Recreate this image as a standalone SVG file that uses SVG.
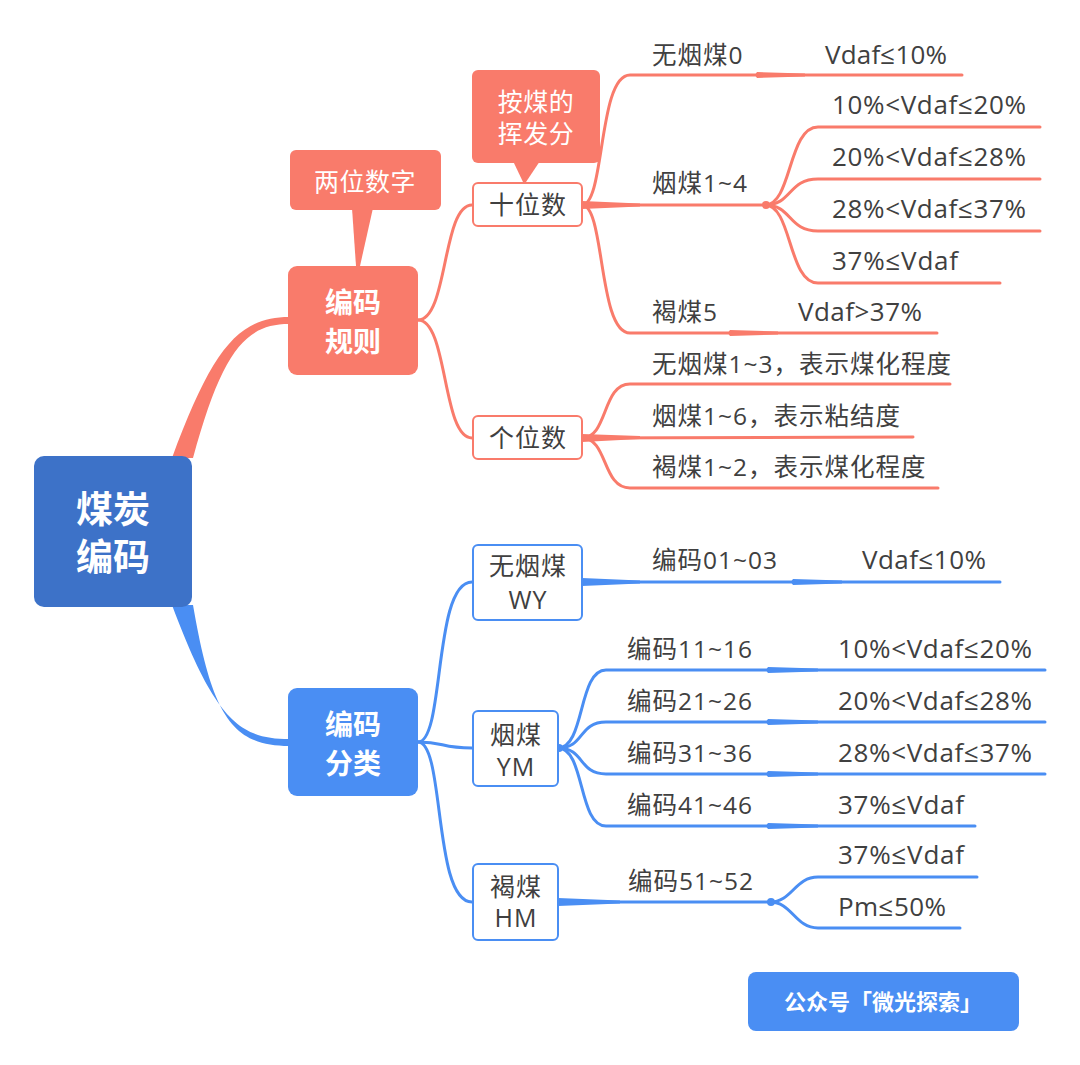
<svg xmlns="http://www.w3.org/2000/svg" width="1080" height="1065" viewBox="0 0 1080 1065">
<style>
text{font-family:"Open Sans","Noto Sans CJK SC",sans-serif;}
.lbl{font-size:24.5px;fill:#404040;letter-spacing:1px;}
.num{font-size:26px;fill:#404040;}
.sub{font-size:25px;fill:#404040;text-anchor:middle;letter-spacing:1px;}
.wt{fill:#fff;font-weight:bold;text-anchor:middle;}
.ct{fill:#fff;font-size:25px;text-anchor:middle;letter-spacing:0.5px;}
.rl{fill:none;stroke:#F97B6B;stroke-width:3;stroke-linecap:round;}
.bl{fill:none;stroke:#4A8EF3;stroke-width:3;stroke-linecap:round;}
.rf{fill:#F97B6B;}
.bf{fill:#4A8EF3;}
</style>
<rect width="1080" height="1065" fill="#fff"/>
<g id="connectors">
  <path class="rf" d="M172 458 C212 350 238 317 289 317 L289 324 C245 324 222 352 193 458 Z"/>
  <path class="bf" d="M172 605 C215 720 240 739 289 739 L289 746 C232 746 212 715 193 605 Z"/>
  <path class="rl" d="M418 320 C448 320 442 205 472 205"/>
  <path class="rl" d="M418 320 C448 320 442 438 472 438"/>
  <path class="rl" d="M582 205 C605 205 598 75 630 75 L962 75"/>
  <path class="rl" d="M582 205 L765 205"/>
  <path class="rl" d="M582 205 C605 205 598 333 630 333 L937 333"/>
  <path class="rl" d="M765 205 C792 205 788 127 818 127 L1040 127"/>
  <path class="rl" d="M765 205 C792 205 788 179 818 179 L1040 179"/>
  <path class="rl" d="M765 205 C792 205 788 231 818 231 L1040 231"/>
  <path class="rl" d="M765 205 C792 205 788 283 818 283 L1000 283"/>
  <path class="rf" d="M582 201 L640 203.5 L640 206.5 L582 209 Z"/>
  <path class="rf" d="M757 72 Q754 75 757 78 L805 76.5 L805 73.5 Z"/>
  <path class="rf" d="M730 330 Q727 333 730 336 L778 334.5 L778 331.5 Z"/>
  <circle class="rf" cx="766" cy="205" r="4"/>
  <path class="rl" d="M582 438 C608 438 602 384 630 384 L950 384"/>
  <path class="rl" d="M582 438 L913 437"/>
  <path class="rl" d="M582 438 C608 438 602 488 630 488 L938 488"/>
  <path class="rf" d="M582 434 L640 436 L640 439 L582 442 Z"/>
  <path class="bl" d="M418 742 C445 742 433 582 472 582"/>
  <path class="bl" d="M418 742 C445 742 440 748 472 748"/>
  <path class="bl" d="M418 742 C445 742 433 902 472 902"/>
  <path class="bl" d="M582 582 L1000 582"/>
  <path class="bf" d="M582 578 L640 580.5 L640 583.5 L582 586 Z"/>
  <path class="bf" d="M793 579 Q790 582 793 585 L842 583.5 L842 580.5 Z"/>
  <path class="bl" d="M558 748 C585 748 578 670 606 670 L1045 670"/>
  <path class="bl" d="M558 748 C585 748 578 722 606 722 L1045 722"/>
  <path class="bl" d="M558 748 C585 748 578 774 606 774 L1045 774"/>
  <path class="bl" d="M558 748 C585 748 578 826 606 826 L975 826"/>
  <circle class="bf" cx="559" cy="748" r="4"/>
  <path class="bf" d="M768 667 Q765 670 768 673 L818 671.5 L818 668.5 Z"/>
  <path class="bf" d="M768 719 Q765 722 768 725 L818 723.5 L818 720.5 Z"/>
  <path class="bf" d="M768 771 Q765 774 768 777 L818 775.5 L818 772.5 Z"/>
  <path class="bf" d="M768 823 Q765 826 768 829 L818 827.5 L818 824.5 Z"/>
  <path class="bl" d="M558 902 L770 902"/>
  <path class="bf" d="M558 898 L620 900.5 L620 903.5 L558 906 Z"/>
  <path class="bl" d="M770 902 C792 902 795 877 818 877 L977 877"/>
  <path class="bl" d="M770 902 C792 902 795 928 818 928 L960 928"/>
  <circle class="bf" cx="771" cy="902" r="4"/>
</g>
<g id="root">
  <rect x="34" y="456" width="158" height="151" rx="10" fill="#3D72C8"/>
  <text class="wt" x="113" y="523" font-size="37">煤炭</text>
  <text class="wt" x="113" y="571" font-size="37">编码</text>
</g>
<g id="rule">
  <rect x="288" y="266" width="130" height="109" rx="9" class="rf"/>
  <text class="wt" x="353" y="313" font-size="28">编码</text>
  <text class="wt" x="353" y="352" font-size="28">规则</text>
</g>
<g id="callout-two">
  <rect x="290" y="150" width="151" height="60" rx="6" class="rf"/>
  <path class="rf" d="M352 208 L373 208 L360 266 L356 266 Z"/>
  <text class="ct" x="365" y="191">两位数字</text>
</g>
<g id="callout-vol">
  <rect x="472" y="70" width="128" height="93" rx="6" class="rf"/>
  <path class="rf" d="M513 161 L540 161 L526 182 L523 182 Z"/>
  <text class="ct" x="536" y="111">按煤的</text>
  <text class="ct" x="536" y="143">挥发分</text>
</g>
<g id="tens">
  <rect x="473" y="183" width="109" height="43" rx="5" fill="#fff" stroke="#F97B6B" stroke-width="2"/>
  <text class="sub" x="528" y="214">十位数</text>
</g>
<g id="ones">
  <rect x="473" y="416" width="109" height="43" rx="5" fill="#fff" stroke="#F97B6B" stroke-width="2"/>
  <text class="sub" x="528" y="447">个位数</text>
</g>
<g id="tens-labels">
  <text class="lbl" x="652" y="64">无烟煤0</text>
  <text class="num" x="825" y="64" textLength="122">Vdaf≤10%</text>
  <text class="lbl" x="652" y="192">烟煤1~4</text>
  <text class="num" x="832" y="114" textLength="194">10%&lt;Vdaf≤20%</text>
  <text class="num" x="832" y="166" textLength="194">20%&lt;Vdaf≤28%</text>
  <text class="num" x="832" y="218" textLength="194">28%&lt;Vdaf≤37%</text>
  <text class="num" x="832" y="270" textLength="126">37%≤Vdaf</text>
  <text class="lbl" x="652" y="321">褐煤5</text>
  <text class="num" x="798" y="321" textLength="124">Vdaf&gt;37%</text>
</g>
<g id="ones-labels">
  <text class="lbl" x="652" y="373">无烟煤1~3，表示煤化程度</text>
  <text class="lbl" x="652" y="425">烟煤1~6，表示粘结度</text>
  <text class="lbl" x="652" y="476">褐煤1~2，表示煤化程度</text>
</g>
<g id="classify">
  <rect x="288" y="688" width="130" height="108" rx="9" class="bf"/>
  <text class="wt" x="353" y="735" font-size="28">编码</text>
  <text class="wt" x="353" y="774" font-size="28">分类</text>
</g>
<g id="wy">
  <rect x="473" y="545" width="109" height="75" rx="5" fill="#fff" stroke="#4A8EF3" stroke-width="2"/>
  <text class="sub" x="528" y="575">无烟煤</text>
  <text class="sub" x="528" y="609">WY</text>
</g>
<g id="ym">
  <rect x="473" y="711" width="85" height="75" rx="5" fill="#fff" stroke="#4A8EF3" stroke-width="2"/>
  <text class="sub" x="516" y="744">烟煤</text>
  <text class="sub" x="516" y="776">YM</text>
</g>
<g id="hm">
  <rect x="473" y="864" width="85" height="76" rx="5" fill="#fff" stroke="#4A8EF3" stroke-width="2"/>
  <text class="sub" x="516" y="896">褐煤</text>
  <text class="sub" x="516" y="927">HM</text>
</g>
<g id="classify-labels">
  <text class="lbl" x="652" y="569" textLength="126">编码01~03</text>
  <text class="num" x="862" y="569" textLength="124">Vdaf≤10%</text>
  <text class="lbl" x="627" y="658" textLength="126">编码11~16</text>
  <text class="num" x="838" y="658" textLength="194">10%&lt;Vdaf≤20%</text>
  <text class="lbl" x="627" y="710" textLength="126">编码21~26</text>
  <text class="num" x="838" y="710" textLength="194">20%&lt;Vdaf≤28%</text>
  <text class="lbl" x="627" y="762" textLength="126">编码31~36</text>
  <text class="num" x="838" y="762" textLength="194">28%&lt;Vdaf≤37%</text>
  <text class="lbl" x="627" y="814" textLength="126">编码41~46</text>
  <text class="num" x="838" y="814" textLength="126">37%≤Vdaf</text>
  <text class="lbl" x="628" y="890" textLength="126">编码51~52</text>
  <text class="num" x="838" y="864" textLength="126">37%≤Vdaf</text>
  <text class="num" x="838" y="916" textLength="108">Pm≤50%</text>
</g>
<g id="watermark">
  <rect x="748" y="972" width="271" height="59" rx="8" class="bf"/>
  <text class="wt" x="883" y="1010" font-size="22">公众号「微光探索」</text>
</g>
</svg>
